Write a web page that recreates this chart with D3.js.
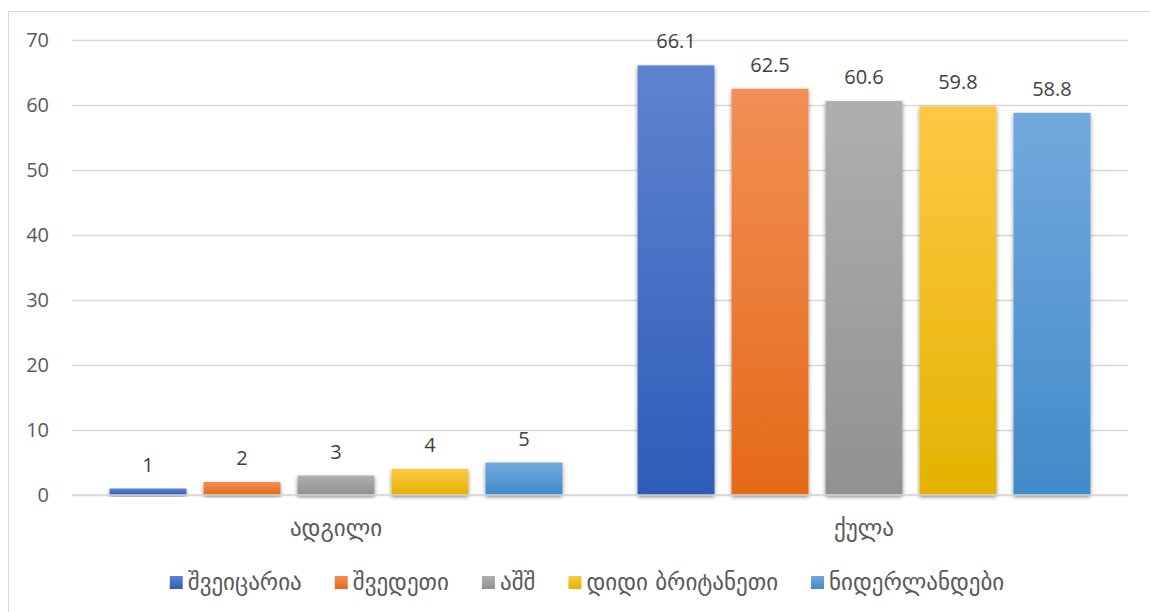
<!DOCTYPE html>
<html>
<head>
<meta charset="utf-8">
<script src="https://cdn.jsdelivr.net/npm/d3@7"></script>
<style>
  html, body { margin: 0; padding: 0; background: #fff; }
  svg { display: block; }
</style>
</head>
<body>
<svg id="chart" width="1150" height="612"></svg>
<script>
// Categories along the x axis
const categories = ["ადგილი", "ქულა"];
// Countries (series) in legend order
const seriesNames = ["შვეიცარია", "შვედეთი", "აშშ", "დიდი ბრიტანეთი", "ნიდერლანდები"];
// Values per series: [ადგილი, ქულა]
const valuesSwitzerland = [1, 66.1];
const valuesSweden = [2, 62.5];
const valuesUSA = [3, 60.6];
const valuesUK = [4, 59.8];
const valuesNetherlands = [5, 58.8];
const yTicks = [0, 10, 20, 30, 40, 50, 60, 70];

const seriesValues = [valuesSwitzerland, valuesSweden, valuesUSA, valuesUK, valuesNetherlands];
// top / bottom gradient stops for each series
const colorTop = ["#5f83cf", "#f28f56", "#afafaf", "#ffc845", "#72a9dd"];
const colorBottom = ["#2e5db9", "#e46a18", "#919191", "#e3b300", "#428aca"];

const svg = d3.select("#chart");
const plot = { left: 72, right: 1128, top: 40, bottom: 495 };
const numFont = "'Open Sans', 'Liberation Sans', sans-serif";
const geoFont = "'DejaVu Sans', sans-serif";

// outer chart frame (extends past the right/bottom edges)
svg.append("rect")
  .attr("x", 8.5).attr("y", 11.5)
  .attr("width", 1160).attr("height", 620)
  .attr("fill", "#fff").attr("stroke", "#d9d9d9").attr("stroke-width", 1);

const defs = svg.append("defs");
seriesNames.forEach((s, i) => {
  const g = defs.append("linearGradient")
    .attr("id", "grad" + i)
    .attr("x1", 0).attr("y1", 0).attr("x2", 0).attr("y2", 1);
  g.append("stop").attr("offset", "0%").attr("stop-color", colorTop[i]);
  g.append("stop").attr("offset", "100%").attr("stop-color", colorBottom[i]);
});
const shadow = defs.append("filter").attr("id", "shadow")
  .attr("x", "-20%").attr("y", "-20%").attr("width", "140%").attr("height", "140%");
shadow.append("feGaussianBlur").attr("in", "SourceAlpha").attr("stdDeviation", 2.2).attr("result", "b");
shadow.append("feOffset").attr("in", "b").attr("dx", 0).attr("dy", 1.5).attr("result", "o");
shadow.append("feComponentTransfer").attr("in", "o").attr("result", "s")
  .append("feFuncA").attr("type", "linear").attr("slope", 0.45);
const merge = shadow.append("feMerge");
merge.append("feMergeNode").attr("in", "s");
merge.append("feMergeNode").attr("in", "SourceGraphic");

const y = d3.scaleLinear().domain([0, 70]).range([plot.bottom, plot.top]);
const x0 = d3.scaleBand().domain(categories).range([plot.left, plot.right]).paddingInner(0).paddingOuter(0);
const x1 = d3.scaleBand().domain(seriesNames).range([0, x0.bandwidth()])
  .paddingInner(0.182).paddingOuter(0.4);

// gridlines and y tick labels
const yAxis = d3.axisLeft(y).tickValues(yTicks).tickSize(-(plot.right - plot.left)).tickPadding(23).tickFormat(d3.format("d"));
const ga = svg.append("g").attr("transform", `translate(${plot.left},0)`).call(yAxis);
ga.select(".domain").remove();
ga.selectAll(".tick line").attr("stroke", "#d9d9d9").attr("stroke-width", 1.3);
ga.selectAll(".tick text")
  .attr("fill", "#595959")
  .style("font-family", numFont)
  .style("font-size", "20px");

// bars with value labels
const groups = svg.append("g").selectAll("g")
  .data(categories)
  .join("g")
  .attr("transform", c => `translate(${x0(c)},0)`);

groups.each(function(c, ci) {
  const g = d3.select(this);
  seriesNames.forEach((s, si) => {
    const v = seriesValues[si][ci];
    g.append("rect")
      .attr("x", x1(s))
      .attr("y", y(v))
      .attr("width", x1.bandwidth())
      .attr("height", y(0) - y(v))
      .attr("fill", `url(#grad${si})`)
      .attr("filter", "url(#shadow)");
    g.append("text")
      .attr("x", x1(s) + x1.bandwidth() / 2)
      .attr("y", y(v) - 17)
      .attr("text-anchor", "middle")
      .attr("fill", "#404040")
      .style("font-family", numFont)
      .style("font-size", "20px")
      .text(v);
  });
});

// baseline
svg.append("line")
  .attr("x1", plot.left).attr("x2", plot.right)
  .attr("y1", y(0)).attr("y2", y(0))
  .attr("stroke", "#d9d9d9").attr("stroke-width", 1.5);

// category labels
svg.append("g").selectAll("text")
  .data(categories)
  .join("text")
  .attr("x", c => x0(c) + x0.bandwidth() / 2)
  .attr("y", 536)
  .attr("text-anchor", "middle")
  .attr("fill", "#595959")
  .style("font-family", geoFont)
  .style("font-size", "23px")
  .text(c => c);

// legend
const sw = 13, swGap = 5, itemGap = 33;
const legend = svg.append("g");
const items = legend.selectAll("g").data(seriesNames).join("g");
items.append("rect")
  .attr("y", -14)
  .attr("width", sw).attr("height", sw)
  .attr("fill", (d, i) => `url(#grad${i})`);
items.append("text")
  .attr("x", sw + swGap).attr("y", 0)
  .attr("fill", "#595959")
  .style("font-family", geoFont)
  .style("font-size", "23px")
  .text(d => d);
let cx = 0;
const offs = [];
items.each(function() {
  offs.push(cx);
  const w = sw + swGap + d3.select(this).select("text").node().getComputedTextLength();
  cx += w + itemGap;
});
const total = cx - itemGap;
const startX = 587 - total / 2;
items.attr("transform", (d, i) => `translate(${startX + offs[i]},590)`);
</script>
</body>
</html>
